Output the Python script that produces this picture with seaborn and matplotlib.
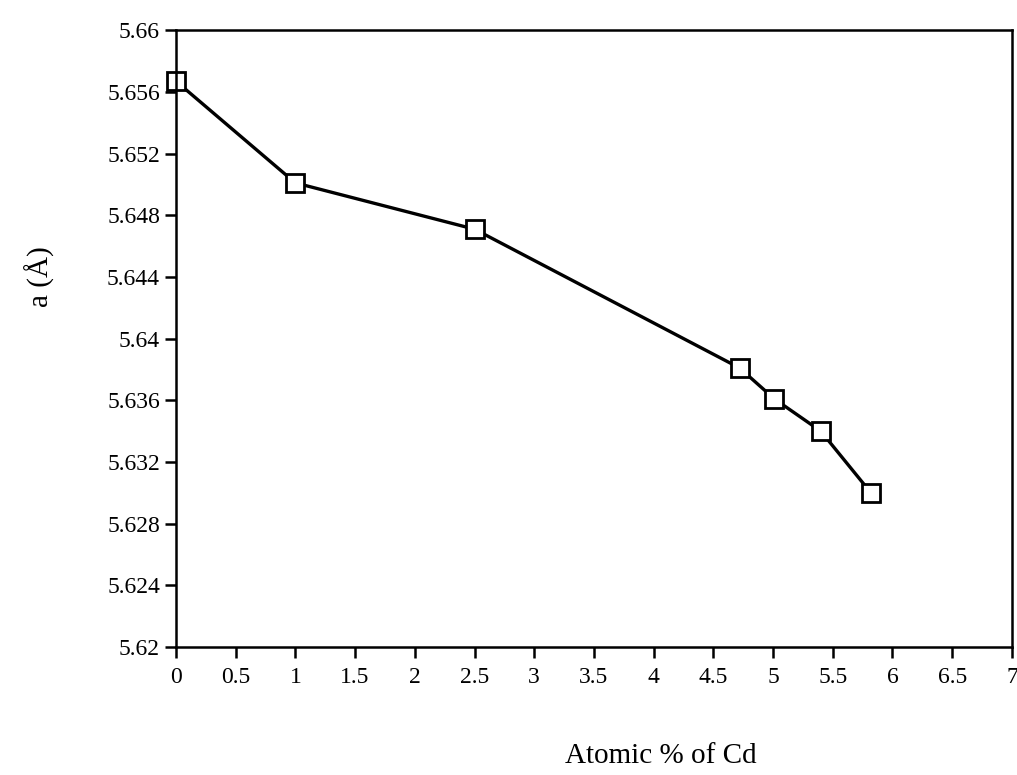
import numpy as np
import pandas as pd
import matplotlib
matplotlib.use("Agg")
import matplotlib.pyplot as plt
import seaborn as sns

cd_percent = [0, 1, 2.5, 4.72, 5.01, 5.4, 5.82]
lattice_a = [5.6567, 5.6501, 5.6471, 5.6381, 5.6361, 5.6340, 5.6300]
x_ticks = [0, 0.5, 1, 1.5, 2, 2.5, 3, 3.5, 4, 4.5, 5, 5.5, 6, 6.5, 7]
y_ticks = [5.62, 5.624, 5.628, 5.632, 5.636, 5.64, 5.644, 5.648, 5.652, 5.656, 5.66]

df = pd.DataFrame({"cd": cd_percent, "a": lattice_a})

sns.set_style("ticks")
plt.rcParams['font.family'] = ['Liberation Serif', 'DejaVu Serif']
plt.rcParams['text.color'] = 'black'

fig = plt.figure(figsize=(10.17, 7.75), dpi=100)
ax = fig.add_axes([0.173, 0.165, 0.822, 0.796])

sns.lineplot(data=df, x="cd", y="a", ax=ax, color="black", linewidth=2.4,
             marker="s", markersize=13.5, markerfacecolor="white",
             markeredgecolor="black", markeredgewidth=2, clip_on=False)

ax.set_xlim(0, 7)
ax.set_ylim(5.62, 5.66)
ax.set_xticks(x_ticks)
ax.set_xticklabels(["%g" % v for v in x_ticks])
ax.set_yticks(y_ticks)
ax.set_yticklabels(["%g" % v for v in y_ticks])
ax.tick_params(axis="both", direction="out", length=8, width=1.8,
               labelsize=17, colors="black")
ax.tick_params(axis="x", pad=6)
for s in ax.spines.values():
    s.set_linewidth(1.8)
    s.set_color("black")

ax.set_xlabel("Atomic % of Cd", fontsize=21, color="black")
ax.set_ylabel("a (Å)", fontsize=21, color="black")
ax.xaxis.set_label_coords(0.58, -0.155)
ax.yaxis.set_label_coords(-0.145, 0.6)

fig.savefig("out.png", dpi=100)
